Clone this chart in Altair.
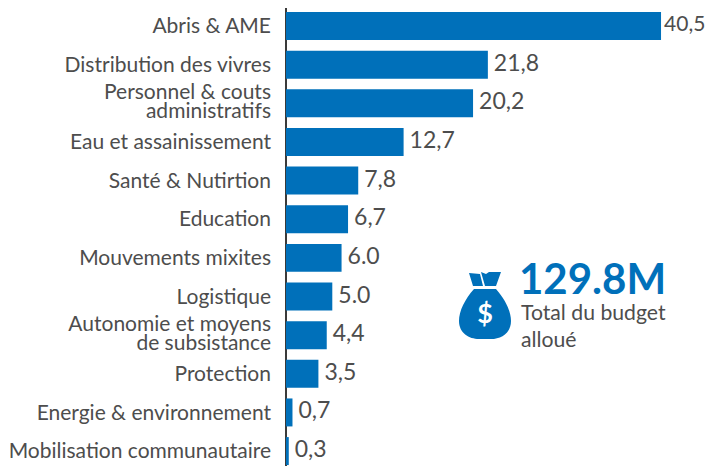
import altair as alt
import pandas as pd

categories = ["Abris & AME", "Distribution des vivres", "Personnel & couts\nadministratifs",
              "Eau et assainissement", "Santé & Nutirtion", "Education", "Mouvements mixites",
              "Logistique", "Autonomie et moyens\nde subsistance", "Protection",
              "Energie & environnement", "Mobilisation communautaire"]
values = [40.5, 21.8, 20.2, 12.7, 7.8, 6.7, 6.0, 5.0, 4.4, 3.5, 0.7, 0.3]
value_labels = ["40,5", "21,8", "20,2", "12,7", "7,8", "6,7", "6.0", "5.0", "4,4", "3,5", "0,7", "0,3"]

FONT = "Lato"
BLUE = "#0070BA"
GREY = "#4D4D4D"
W, H = 420, 458
XMAX = W / 9.26

df = pd.DataFrame({"cat": categories, "val": values, "lab": value_labels})
df["two"] = df["cat"].str.contains("\n")
df["top"] = df["val"] > 40

x = alt.X("val:Q", scale=alt.Scale(domain=[0, XMAX], nice=False, zero=True), axis=None)
y = alt.Y("cat:N", sort=None, axis=None,
          scale=alt.Scale(domain=categories, range=[-1.3, 462.4], paddingInner=0.276, paddingOuter=0.138))

axis_line = alt.Chart(df.head(1)).mark_rule(color="#3A3A3A", strokeWidth=2).encode(
    x=alt.value(0), y=alt.value(0), y2=alt.value(H))
bars = alt.Chart(df).mark_bar(color=BLUE, cornerRadius=0).encode(x=x, y=y)
cat_one = alt.Chart(df[~df["two"]]).mark_text(align="right", baseline="middle", font=FONT, fontSize=21,
                                              color=GREY, dy=1.2).encode(
    x=alt.value(-15), y=y, text="cat:N")
cat_two = alt.Chart(df[df["two"]]).mark_text(align="right", baseline="middle", font=FONT, fontSize=21,
                                             color=GREY, lineBreak="\n", lineHeight=19, dy=-10).encode(
    x=alt.value(-15), y=y, text="cat:N")
val_text = alt.Chart(df[~df["top"]]).mark_text(align="left", baseline="middle", font=FONT, fontSize=23,
                                               color=GREY, dx=6, dy=-1).encode(x=x, y=y, text="lab:N")
# the page clips at x=706, so the longest bar's label is set a little tighter
val_top = alt.Chart(df[df["top"]]).mark_text(align="left", baseline="middle", font=FONT, fontSize=21,
                                             color=GREY, dx=3, dy=-1).encode(x=x, y=y, text="lab:N")

# Decorative money-bag icon (page coordinates minus plot origin 286,8)
BAG = ("M-11,-16 C-20,-6 -26,6 -26,16 C-26,28 -16,34 -6,34 L6,34 C16,34 26,28 26,16 "
       "C26,6 20,-6 11,-16 Z "
       "M-16,-32 L-5,-31 L-2,-19 L-12,-19 Z M-4,-33 L1,-31 L4,-33 L16,-33 L11,-19 L0,-19 Z")
deco = pd.DataFrame({"k": [0]})
icon = alt.Chart(deco).mark_point(shape=BAG, filled=True, opacity=1, color=BLUE, strokeWidth=0, size=4).encode(
    x=alt.value(199), y=alt.value(297))
dollar = alt.Chart(deco).mark_text(text="$", font=FONT, fontWeight="bold", fontSize=27, color="white",
                                   align="center", baseline="alphabetic").encode(
    x=alt.value(199), y=alt.value(315))
big = alt.Chart(deco).mark_text(text="129.8M", font=FONT, fontWeight="bold", fontSize=42, color=BLUE,
                                align="left", baseline="alphabetic").encode(
    x=alt.value(233), y=alt.value(286))
sub1 = alt.Chart(deco).mark_text(text="Total du budget", font=FONT, fontSize=21.2, color=GREY,
                                 align="left", baseline="alphabetic").encode(
    x=alt.value(235), y=alt.value(312))
sub2 = alt.Chart(deco).mark_text(text="alloué", font=FONT, fontSize=21.2, color=GREY,
                                 align="left", baseline="alphabetic").encode(
    x=alt.value(235), y=alt.value(339))

chart = alt.layer(axis_line, bars, cat_one, cat_two, val_text, val_top, icon, dollar, big, sub1, sub2).properties(
    width=W, height=H,
    autosize=alt.AutoSizeParams(type="none"),
    padding={"left": 278, "top": 0, "right": 0, "bottom": 0},
).configure_view(strokeWidth=0, clip=False)

chart.save("out.html", embed_options={"renderer": "svg", "actions": False})
